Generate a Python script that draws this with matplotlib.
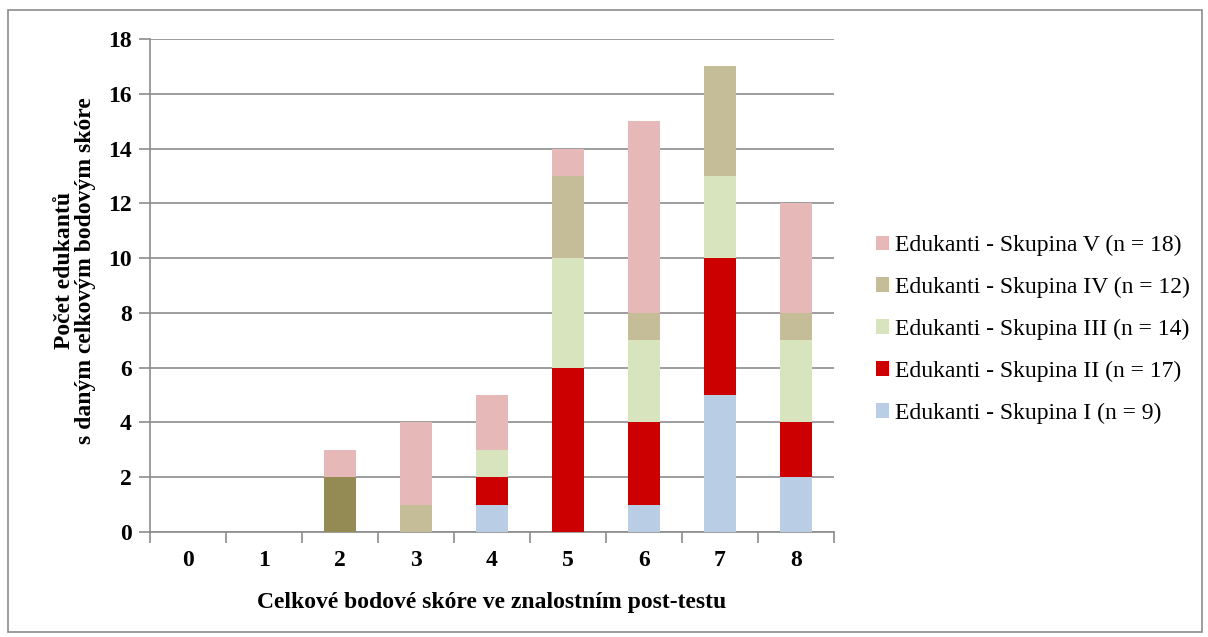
import matplotlib.pyplot as plt
import numpy as np

plt.rcParams['font.family'] = ['Liberation Serif', 'DejaVu Serif']

skore = [0, 1, 2, 3, 4, 5, 6, 7, 8]
skupina_I = [0, 0, 0, 0, 1, 0, 1, 5, 2]
skupina_II = [0, 0, 0, 0, 1, 6, 3, 5, 2]
skupina_III = [0, 0, 0, 0, 1, 4, 3, 3, 3]
skupina_IV = [0, 0, 2, 1, 0, 3, 1, 4, 1]
skupina_V = [0, 0, 1, 3, 2, 1, 7, 0, 4]

series = [
    ("Edukanti - Skupina I (n = 9)", skupina_I, "#B9CDE5"),
    ("Edukanti - Skupina II (n = 17)", skupina_II, "#CC0000"),
    ("Edukanti - Skupina III (n = 14)", skupina_III, "#D7E4BD"),
    ("Edukanti - Skupina IV (n = 12)", skupina_IV, "#C4BD97"),
    ("Edukanti - Skupina V (n = 18)", skupina_V, "#E6B9B8"),
]

fig = plt.figure(figsize=(12.08, 6.37), dpi=100)
ax = fig.add_axes([0.1242, 0.1648, 0.5662, 0.774])

# outer chart border
fig.patches.append(plt.Rectangle((0.0066, 0.008), 0.9884, 0.976, transform=fig.transFigure,
                                 fill=False, edgecolor="#8c8c8c", linewidth=1.2))

x = np.arange(len(skore))
bottom = np.zeros(len(skore))
handles = []
for name, vals, col in series:
    bars = ax.bar(x, vals, width=0.41, bottom=bottom, color=col, label=name, zorder=3)
    handles.append(bars)
    bottom += np.array(vals)

# the score-2 segment of group IV is drawn darker in the original
handles[3][2].set_facecolor("#948A54")

ax.set_xlim(-0.5, len(skore) - 0.5)
ax.set_ylim(0, 18)
ax.set_yticks(range(0, 19, 2))
ax.set_xticks(x)
ax.set_xticklabels([str(s) for s in skore])
ax.set_xticks(np.arange(-0.5, len(skore)), minor=True)
ax.tick_params(axis='x', which='major', length=0, pad=13)
ax.tick_params(axis='x', which='minor', length=8, color="#8c8c8c", width=1.2)
ax.tick_params(axis='y', length=8, color="#8c8c8c", width=1.2, pad=5)
for lab in ax.get_xticklabels() + ax.get_yticklabels():
    lab.set_fontsize(17)
    lab.set_fontweight('bold')

ax.grid(axis='y', color="#8c8c8c", linewidth=1.2, zorder=0)
for s in ['top', 'right']:
    ax.spines[s].set_visible(False)
ax.spines['left'].set_color("#8c8c8c")
ax.spines['bottom'].set_color("#8c8c8c")
ax.spines['left'].set_linewidth(1.2)
ax.spines['bottom'].set_linewidth(1.2)

ax.set_xlabel("Celkové bodové skóre ve znalostním post-testu", fontsize=17,
              fontweight='bold', labelpad=15)
ax.set_ylabel("Počet edukantů\ns daným celkovým bodovým skóre", fontsize=17,
              fontweight='bold', linespacing=1.0)
ax.yaxis.set_label_coords(-0.079, 0.53)

leg = fig.legend(handles[::-1], [s[0] for s in series][::-1], loc='center left',
                 bbox_to_anchor=(0.7074, 0.483), frameon=False, fontsize=17,
                 handlelength=0.55, handleheight=0.55, handletextpad=0.25,
                 labelspacing=0.88)

fig.savefig("out.png", dpi=100)
